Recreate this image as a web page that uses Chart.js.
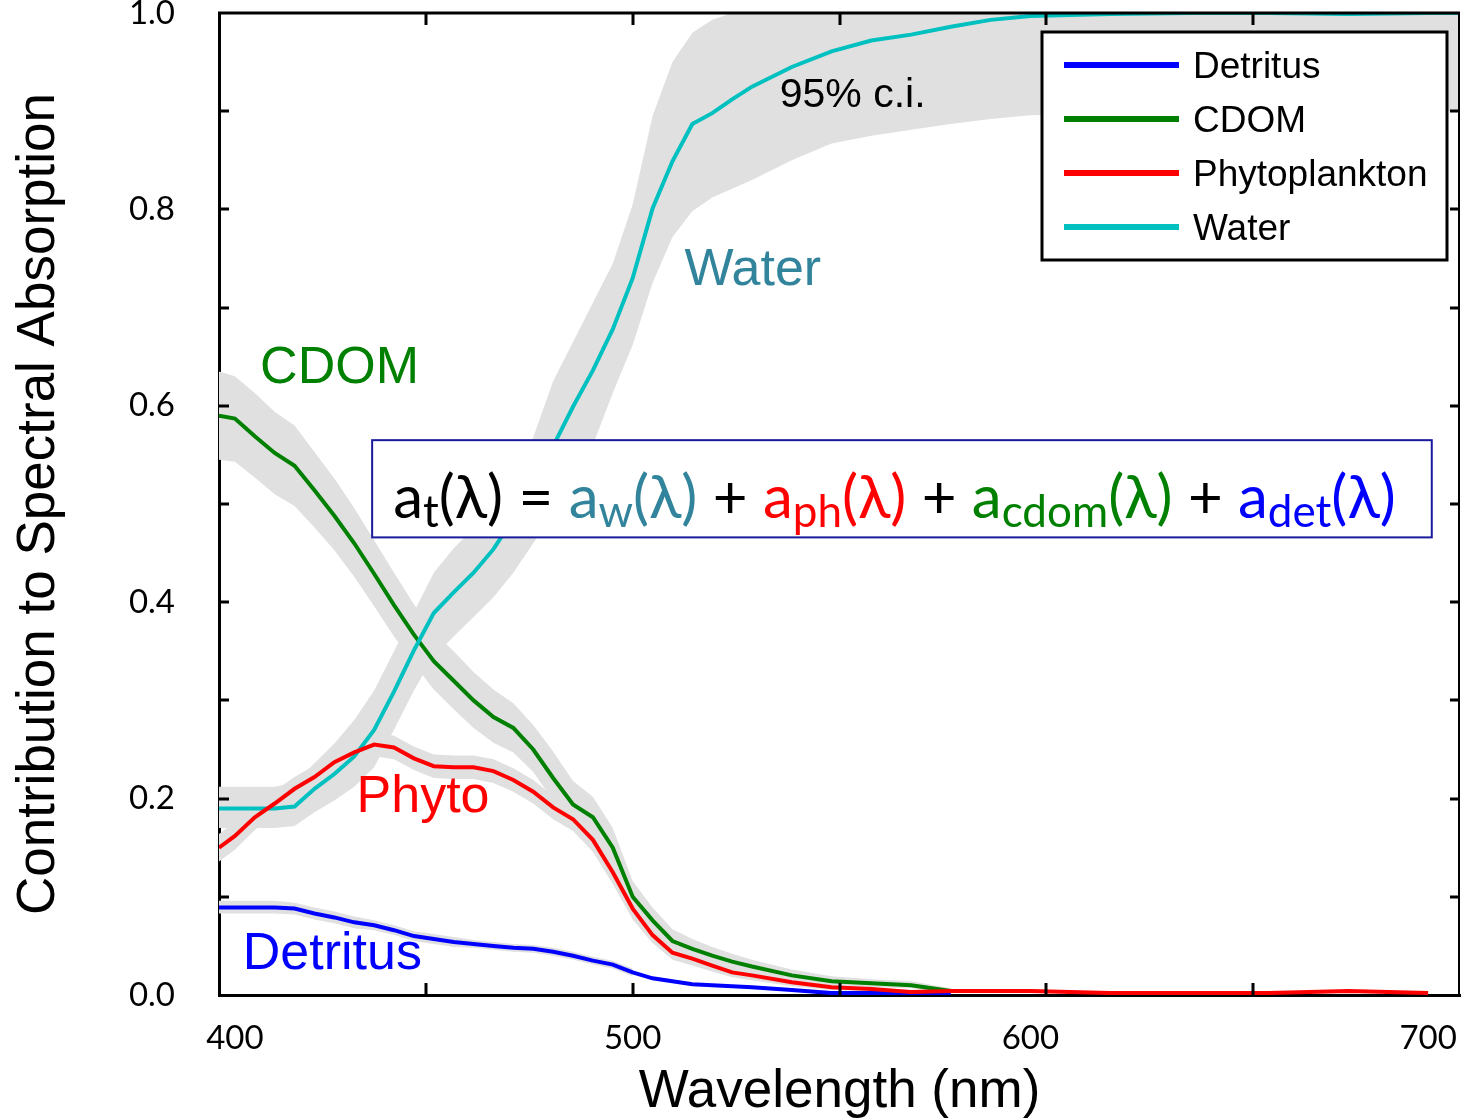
<!DOCTYPE html>
<html>
<head>
<meta charset="utf-8">
<title>Spectral absorption</title>
<script src="https://cdn.jsdelivr.net/npm/chart.js@4.4.0/dist/chart.umd.min.js"></script>
<style>
  html, body { margin: 0; padding: 0; background: #fff; }
  #wrap { width: 1466px; height: 1120px; position: relative; }
</style>
</head>
<body>
<div id="wrap"><canvas id="chart"></canvas></div>
<script>
// wavelength grid (nm)
const wavelength = [396, 400, 405, 410, 415, 420, 425, 430, 435, 440,
  445, 450, 455, 460, 465, 470, 475, 480, 485, 490,
  495, 500, 505, 510, 515, 520, 525, 530,
  540, 550, 560, 570, 580, 590, 600,
  620, 640, 660, 680, 700, 708];

const water = [.190, .190, .190, .190, .192, .210, .225, .243, .270, .309,
  .351, .389, .410, .430, .454, .485, .522, .559, .599, .636,
  .678, .730, .801, .849, .887, .898, .912, .925,
  .945, .961, .972, .978, .986, .993, .997,
  .999, 1.0, 1.0, .999, 1.0, 1.0];
const waterHi = [.212, .212, .212, .212, .216, .236, .256, .280, .310, .350,
  .390, .430, .455, .475, .500, .530, .568, .625, .665, .705,
  .745, .805, .895, .950, .980, .993, 1.0, 1.0,
  1.0, 1.0, 1.0, 1.0, 1.0, 1.0, 1.0,
  1.0, 1.0, 1.0, 1.0, 1.0, 1.0];
const waterLo = [.170, .170, .170, .170, .172, .186, .198, .212, .232, .270,
  .310, .345, .365, .385, .405, .430, .460, .490, .528, .560,
  .613, .662, .725, .772, .798, .812, .821, .830,
  .850, .867, .875, .881, .887, .892, .896,
  .898, .899, .900, .900, .900, .900];

const cdom = [.590, .587, .569, .552, .539, .514, .488, .460, .429, .397,
  .367, .340, .320, .300, .283, .272, .250, .221, .194, .181,
  .150, .100, .076, .055, .047, .040, .034, .029,
  .020, .014, .012, .010, .004, null, null,
  null, null, null, null, null, null];
const cdomHi = [.635, .630, .613, .594, .580, .553, .526, .496, .463, .430,
  .398, .370, .350, .329, .311, .297, .275, .248, .218, .202,
  .170, .116, .089, .067, .057, .049, .042, .036,
  .026, .019, .016, .014, .007, null, null,
  null, null, null, null, null, null];
const cdomLo = [.545, .543, .527, .510, .498, .476, .453, .426, .396, .365,
  .337, .311, .291, .272, .257, .247, .227, .198, .172, .162,
  .132, .085, .063, .044, .038, .032, .026, .022,
  .014, .009, .008, .007, .002, null, null,
  null, null, null, null, null, null];

const phyto = [.150, .162, .181, .195, .210, .222, .237, .247, .255, .252,
  .241, .233, .232, .232, .228, .219, .207, .191, .179, .158,
  .125, .088, .061, .043, .037, .030, .023, .020,
  .013, .008, .006, .003, .004, .004, .004,
  .002, .002, .002, .004, .002, null];
const phytoHi = [.164, .176, .194, .208, .222, .234, .249, .259, .267, .264,
  .253, .245, .244, .244, .240, .231, .219, .203, .191, .170,
  .137, .099, .069, .051, .044, .037, .029, .025,
  .017, .011, .008, null, null, null, null,
  null, null, null, null, null, null];
const phytoLo = [.136, .148, .168, .182, .198, .210, .225, .235, .243, .240,
  .229, .221, .220, .220, .216, .207, .195, .179, .167, .146,
  .113, .077, .053, .036, .030, .024, .018, .015,
  .009, .005, .004, null, null, null, null,
  null, null, null, null, null, null];

const detritus = [.089, .089, .089, .089, .088, .083, .079, .074, .071, .066,
  .060, .057, .054, .052, .050, .048, .047, .044, .040, .035,
  .031, .023, .017, .014, .011, .010, .009, .008,
  .005, .002, .002, .002, .002, null, null,
  null, null, null, null, null, null];
const detritusHi = [.096, .096, .096, .096, .094, .089, .085, .080, .076, .071,
  .065, .062, .059, .056, .054, .052, .051, .048, .044, .039,
  .035, .027, null, null, null, null, null, null,
  null, null, null, null, null, null, null,
  null, null, null, null, null, null];
const detritusLo = [.083, .083, .083, .083, .082, .077, .073, .068, .066, .061,
  .055, .052, .049, .048, .046, .044, .043, .040, .036, .031,
  .027, .019, null, null, null, null, null, null,
  null, null, null, null, null, null, null,
  null, null, null, null, null, null];

const xTickLabels = [400, 500, 600, 700];
const xTickMarks = [448, 500, 552, 604, 656];
const yTickLabels = [0, 0.2, 0.4, 0.6, 0.8, 1.0];
const yTickMarks = [0.1, 0.2, 0.3, 0.4, 0.5, 0.6, 0.7, 0.8, 0.9];

const BAND = '#e0e0e0';
const TEAL = '#31849b';

const pts = vals => vals.map((v, i) => ({ x: wavelength[i], y: v }));

function lineSet(label, vals, color, order) {
  return {
    label: label, data: pts(vals), borderColor: color, backgroundColor: color,
    borderWidth: 4, pointRadius: 0, fill: false, order: order, tension: 0, isLine: true
  };
}
function bandSets(hi, lo) {
  return [
    { data: pts(hi), borderWidth: 0, pointRadius: 0, fill: false, order: 5 },
    { data: pts(lo), borderWidth: 0, pointRadius: 0, fill: '-1', backgroundColor: BAND, order: 5 }
  ];
}

const datasets = [
  lineSet('Detritus', detritus, '#0000ff', 3),
  lineSet('CDOM', cdom, '#008000', 2),
  lineSet('Phytoplankton', phyto, '#ff0000', 0),
  lineSet('Water', water, '#00c0c0', 1),
  ...bandSets(waterHi, waterLo),
  ...bandSets(cdomHi, cdomLo),
  ...bandSets(phytoHi, phytoLo),
  ...bandSets(detritusHi, detritusLo)
];

// labels placed in data space (nm, value at baseline)
const notes = [
  { text: 'Water', x: 530.2, y: 0.723, color: TEAL, size: 52 },
  { text: 'CDOM', x: 426.3, y: 0.623, color: '#008000', size: 52 },
  { text: 'Phyto', x: 447.3, y: 0.186, color: '#ff0000', size: 52 },
  { text: 'Detritus', x: 424.5, y: 0.0265, color: '#0000ff', size: 52 },
  { text: '95% c.i.', x: 555.3, y: 0.904, color: '#000', size: 41 }
];

const eqParts = [
  { t: 'a', c: '#000' }, { t: 't', c: '#000', sub: true }, { t: '(λ) = ', c: '#000' },
  { t: 'a', c: TEAL }, { t: 'w', c: TEAL, sub: true }, { t: '(λ)', c: TEAL },
  { t: ' + ', c: '#000' },
  { t: 'a', c: '#ff0000' }, { t: 'ph', c: '#ff0000', sub: true }, { t: '(λ)', c: '#ff0000' },
  { t: ' + ', c: '#000' },
  { t: 'a', c: '#008000' }, { t: 'cdom', c: '#008000', sub: true }, { t: '(λ)', c: '#008000' },
  { t: ' + ', c: '#000' },
  { t: 'a', c: '#0000ff' }, { t: 'det', c: '#0000ff', sub: true }, { t: '(λ)', c: '#0000ff' }
];
const eqBox = { x0: 434.5, x1: 700.9, y0: 0.466, y1: 0.565, base: 0.486 };

function eqFont(p, s) {
  return (p.sub ? Math.round(s * 0.72) : Math.round(s)) + 'px Lato, "Noto Sans", sans-serif';
}

const decorations = {
  id: 'decorations',
  afterDatasetsDraw(chart) {
    const { ctx, chartArea: a, scales: { x, y } } = chart;
    ctx.save();
    // frame top / right
    ctx.strokeStyle = '#000';
    ctx.lineWidth = 3;
    ctx.beginPath(); ctx.moveTo(a.left - 1, a.top); ctx.lineTo(a.right, a.top); ctx.stroke();
    ctx.lineWidth = 2;
    ctx.beginPath(); ctx.moveTo(a.right - 1, a.top); ctx.lineTo(a.right - 1, a.bottom); ctx.stroke();
    // inward tick marks
    ctx.lineWidth = 3;
    ctx.beginPath();
    xTickMarks.forEach(v => {
      const px = Math.round(x.getPixelForValue(v));
      ctx.moveTo(px, a.bottom); ctx.lineTo(px, a.bottom - 12);
      ctx.moveTo(px, a.top); ctx.lineTo(px, a.top + 12);
    });
    yTickMarks.forEach(v => {
      const py = Math.round(y.getPixelForValue(v));
      ctx.moveTo(a.left, py); ctx.lineTo(a.left + 10, py);
      ctx.moveTo(a.right, py); ctx.lineTo(a.right - 10, py);
    });
    ctx.stroke();

    // text labels
    ctx.textAlign = 'center';
    ctx.textBaseline = 'alphabetic';
    notes.forEach(n => {
      ctx.font = n.size + 'px "Liberation Sans", Arial, sans-serif';
      ctx.fillStyle = n.color;
      ctx.fillText(n.text, x.getPixelForValue(n.x), y.getPixelForValue(n.y));
    });

    // equation box
    const bx0 = x.getPixelForValue(eqBox.x0), bx1 = x.getPixelForValue(eqBox.x1);
    const by0 = y.getPixelForValue(eqBox.y1), by1 = y.getPixelForValue(eqBox.y0);
    ctx.fillStyle = '#fff';
    ctx.fillRect(bx0, by0, bx1 - bx0, by1 - by0);
    ctx.strokeStyle = '#1a1a9c';
    ctx.lineWidth = 2;
    ctx.strokeRect(bx0, by0, bx1 - bx0, by1 - by0);

    const target = (bx1 - bx0) - 55;
    let size = 60;
    const measure = s => eqParts.reduce((w, p) => { ctx.font = eqFont(p, s); return w + ctx.measureText(p.t).width; }, 0);
    size = size * target / measure(size);
    let cx = bx0 + 21;
    const base = y.getPixelForValue(eqBox.base);
    ctx.textAlign = 'left';
    eqParts.forEach(p => {
      ctx.font = eqFont(p, size);
      ctx.fillStyle = p.c;
      ctx.fillText(p.t, cx, p.sub ? base + size * 0.15 : base);
      cx += ctx.measureText(p.t).width;
    });
    ctx.restore();
  },
  afterDraw(chart) {
    // legend box, top right inside the plot
    const { ctx, chartArea: a } = chart;
    const items = chart.data.datasets.filter(d => d.isLine);
    const w = 405, h = 228;
    const left = a.right - 418, top = a.top + 19;
    ctx.save();
    ctx.fillStyle = '#fff';
    ctx.fillRect(left, top, w, h);
    ctx.strokeStyle = '#000';
    ctx.lineWidth = 3;
    ctx.strokeRect(left, top, w, h);
    ctx.font = '37px "Liberation Sans", Arial, sans-serif';
    ctx.textBaseline = 'middle';
    ctx.textAlign = 'left';
    items.forEach((d, i) => {
      const ry = top + 33 + i * 54;
      ctx.strokeStyle = d.borderColor;
      ctx.lineWidth = 6;
      ctx.beginPath(); ctx.moveTo(left + 22, ry); ctx.lineTo(left + 137, ry); ctx.stroke();
      ctx.fillStyle = '#000';
      ctx.fillText(d.label, left + 151, ry + 3);
    });
    ctx.restore();
  }
};

new Chart(document.getElementById('chart'), {
  type: 'line',
  data: { datasets: datasets },
  options: {
    responsive: true,
    maintainAspectRatio: false,
    animation: false,
    layout: { padding: { top: 13, right: 6, left: 0, bottom: 0 } },
    plugins: {
      legend: { display: false },
      tooltip: { enabled: false },
      filler: { propagate: false, drawTime: 'beforeDatasetsDraw' }
    },
    scales: {
      x: {
        type: 'linear', min: 396, max: 708,
        afterBuildTicks: s => { s.ticks = xTickLabels.map(v => ({ value: v })); },
        afterFit: s => { s.height = 125; s.paddingLeft = 0; s.paddingRight = 0; s.paddingTop = 0; s.paddingBottom = 0; },
        ticks: { color: '#000', font: { family: 'Lato', size: 33 }, padding: 16, maxRotation: 0, autoSkip: false },
        grid: { display: false },
        border: { display: true, color: '#000', width: 3 },
        title: {
          display: true, text: 'Wavelength (nm)', color: '#000', padding: 0,
          font: { family: 'Liberation Sans', size: 53, lineHeight: 1.05 }
        }
      },
      y: {
        min: 0, max: 1,
        afterBuildTicks: s => { s.ticks = yTickLabels.map(v => ({ value: v })); },
        afterFit: s => { s.width = 219; s.paddingLeft = 0; s.paddingRight = 0; s.paddingTop = 0; s.paddingBottom = 0; },
        ticks: { color: '#000', font: { family: 'Lato', size: 33 }, padding: 36, callback: v => v.toFixed(1) },
        grid: { display: false },
        border: { display: true, color: '#000', width: 3 },
        title: {
          display: true, text: 'Contribution to Spectral Absorption', color: '#000',
          padding: { top: 8, bottom: 0 },
          font: { family: 'Liberation Sans', size: 53 }
        }
      }
    }
  },
  plugins: [decorations]
});
</script>
</body>
</html>
